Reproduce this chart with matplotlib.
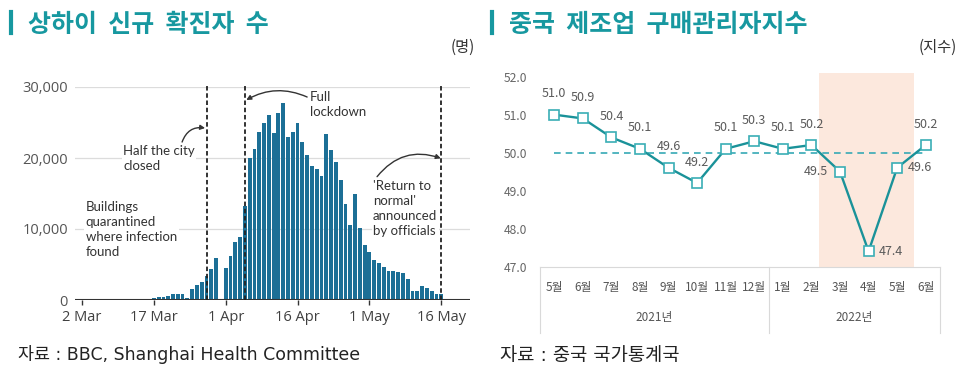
import numpy as np
import pandas as pd
import matplotlib
matplotlib.use('Agg')
import matplotlib.pyplot as plt
import matplotlib.dates as mdates
from matplotlib.lines import Line2D

plt.rcParams['font.family'] = ['Noto Sans CJK KR', 'DejaVu Sans']

# ---- 상하이 신규 확진자 수 (2 Mar ~ 16 May 2022, 일별) ----
start_date = '2022-03-02'
cases = [
    0, 0, 0, 0, 0, 30, 60, 70, 60, 70,
    80, 80, 60, 170, 200, 250, 380, 450, 550, 850,
    900, 900, 300, 1500, 2100, 2600, 3400, 4400, 5900, 0,
    4500, 6200, 8100, 8900, 13200, 19950, 21200, 23600, 24900, 26100,
    23500, 26300, 27700, 23000, 23600, 24900, 22300, 20400, 18900, 18400,
    17500, 23400, 21100, 19500, 16900, 13500, 10600, 15000, 10100, 7700,
    6800, 5600, 5200, 4700, 4100, 4100, 4000, 3800, 2900, 1300,
    1300, 2000, 1700, 1300, 900, 800,
]
tick_dates = ['2022-03-02', '2022-03-17', '2022-04-01', '2022-04-16', '2022-05-01', '2022-05-16']
tick_labels = ['2 Mar', '17 Mar', '1 Apr', '16 Apr', '1 May', '16 May']
event_dates = ['2022-03-28', '2022-04-05', '2022-05-16']
y_ticks = [0, 10000, 20000, 30000]

# ---- 중국 제조업 PMI ----
months = ['5월', '6월', '7월', '8월', '9월', '10월', '11월', '12월',
          '1월', '2월', '3월', '4월', '5월', '6월']
pmi = [51.0, 50.9, 50.4, 50.1, 49.6, 49.2, 50.1, 50.3, 50.1, 50.2, 49.5, 47.4, 49.6, 50.2]
label_pos = ['up'] * 10 + ['left', 'right', 'right', 'up']
years = ['2021년', '2022년']
year_counts = [8, 6]
pmi_ticks = [47.0, 48.0, 49.0, 50.0, 51.0, 52.0]

TEAL = '#1798a0'
BAR = '#1c6f96'
W, H = 966, 373

fig = plt.figure(figsize=(W / 100, H / 100), dpi=100)


def px_axes(l, t, r, b):
    return fig.add_axes([l / W, 1 - b / H, (r - l) / W, (b - t) / H])


# titles
for x0, title in [(11, '상하이  신규  확진자  수'), (492, '중국  제조업  구매관리자지수')]:
    fig.add_artist(Line2D([x0 / W, x0 / W], [1 - 12 / H, 1 - 33 / H], color=TEAL, lw=3))
    fig.text((x0 + 17) / W, 1 - 24.5 / H, title, fontsize=18, weight='bold',
             color=TEAL, va='center')
fig.text(475 / W, 1 - 47 / H, '(명)', ha='right', va='center', fontsize=11, color='#333333')
fig.text(957 / W, 1 - 47 / H, '(지수)', ha='right', va='center', fontsize=11, color='#333333')
FOOT = ['DejaVu Sans', 'Noto Sans CJK KR']
fig.text(18 / W, 1 - 355 / H, '자료 : BBC, Shanghai Health Committee', va='center',
         fontsize=12.5, color='#222222', family=FOOT)
fig.text(500 / W, 1 - 355 / H, '자료 : 중국 국가통계국', va='center',
         fontsize=13.5, color='#222222', family=FOOT)

# ---------------- left: bar chart ----------------
LF = ['Lato', 'DejaVu Sans']
ax1 = px_axes(74.8, 87, 470, 300)
dates = pd.date_range(start_date, periods=len(cases))
x = mdates.date2num(dates)
x0 = x[0]
ax1.bar(x, cases, width=0.8, color=BAR, edgecolor='none', zorder=2)
ax1.set_xlim(x0 - 1.5, x0 + 81)
ax1.set_ylim(0, 30000)
ax1.set_axisbelow(True)
ax1.yaxis.grid(True, color='#dcdcdc', lw=0.9)
for s in ax1.spines.values():
    s.set_visible(False)
ax1.axhline(0, color='#333333', lw=1.5, zorder=3)
ax1.set_yticks(y_ticks)
ax1.set_yticklabels([f'{v:,}' for v in y_ticks], family=['Open Sans'], fontsize=10.5,
                    color='#555555')
ax1.tick_params(axis='y', length=0, pad=5)
ax1.set_xticks(mdates.date2num(pd.to_datetime(tick_dates)))
ax1.set_xticklabels(tick_labels, family=['Open Sans'], fontsize=10.5, color='#404040')
ax1.tick_params(axis='x', length=3.5, width=1, color='#333333', pad=4)

ev = mdates.date2num(pd.to_datetime(event_dates))
ax1.vlines(ev, 0, 30250, colors='#222222', linestyles=(0, (2.5, 1.5)), lw=1.3,
           zorder=6, clip_on=False)

txt_kw = dict(family=LF, fontsize=9.5, color='#333333', ha='left', va='center',
              linespacing=1.3, zorder=5,
              bbox=dict(fc='white', ec='none', pad=1))
arr_kw = dict(arrowstyle='-|>', color='#333333', lw=1, shrinkA=0, shrinkB=0,
              mutation_scale=7)
ax1.text(x0 + 8.6, 19930, 'Half the city\nclosed', **txt_kw)
ax1.annotate('', xy=(x0 + 25.7, 24225), xytext=(x0 + 20.9, 22250),
             arrowprops=dict(connectionstyle='arc3,rad=-0.4', **arr_kw))
ax1.text(x0 + 47.6, 27600, 'Full\nlockdown', **txt_kw)
ax1.annotate('', xy=(x0 + 34.3, 28170), xytext=(x0 + 47.0, 28590),
             arrowprops=dict(connectionstyle='arc3,rad=0.25', **arr_kw), annotation_clip=False)
ax1.text(x0 + 0.8, 9930, 'Buildings\nquarantined\nwhere infection\nfound', **txt_kw)
ax1.text(x0 + 60.75, 12900, "'Return to\nnormal'\nannounced\nby officials", **txt_kw)
ax1.annotate('', xy=(x0 + 74.9, 19960), xytext=(x0 + 61.6, 17370),
             arrowprops=dict(connectionstyle='arc3,rad=-0.35', **arr_kw))

# ---------------- right: PMI line ----------------
ax2 = px_axes(540, 72.9, 940, 266.5)
xi = np.arange(len(pmi))
ax2.set_xlim(-0.5, len(pmi) - 0.5)
ax2.set_ylim(47, 52.1)
ax2.axvspan(9.27, 12.6, color='#fce8dd', lw=0, zorder=0)
ax2.hlines(50, xi[0], xi[-1], colors='#36a9b5', linestyles=(0, (4, 3)), lw=1.2, zorder=3)
ax2.plot(xi, pmi, color='#1a9299', lw=1.7, marker='s', ms=6.5, mfc='white',
         mec='#3aaeb5', mew=1.2, zorder=4)

for i, (v, p) in enumerate(zip(pmi, label_pos)):
    if p == 'up':
        off, ha = (0, 15), 'center'
    elif p == 'left':
        off, ha = (-8.5, 0), 'right'
    else:
        off, ha = (7.5, 0), 'left'
    ax2.annotate(f'{v:.1f}', (xi[i], v), xytext=off, textcoords='offset points',
                 ha=ha, va='center', fontsize=9, color='#5a5a5a', zorder=5)

ax2.set_yticks(pmi_ticks)
ax2.set_yticklabels([f'{v:.1f}' for v in pmi_ticks], fontsize=8.7, color='#666666')
ax2.tick_params(axis='y', length=0, pad=9)
ax2.set_xticks([])
for k in ['left', 'right', 'top']:
    ax2.spines[k].set_visible(False)
ax2.spines['bottom'].set_color('#d9d9d9')
ax2.spines['bottom'].set_linewidth(0.8)

tr = ax2.get_xaxis_transform()
box_depth = -(333 - 266.5) / (266.5 - 72.9)
for i, m in enumerate(months):
    ax2.text(xi[i], -0.11, m, transform=tr, ha='center', va='center',
             fontsize=8.5, color='#555555')
edges = np.concatenate([[0], np.cumsum(year_counts)]) - 0.5
for k, yl in enumerate(years):
    ax2.text((edges[k] + edges[k + 1]) / 2, -0.265, yl, transform=tr,
             ha='center', va='center', fontsize=8.5, color='#555555')
for e in edges:
    ax2.plot([e, e], [0, box_depth], transform=tr, clip_on=False,
             color='#d9d9d9', lw=0.8)

fig.savefig('out.png', dpi=100)
